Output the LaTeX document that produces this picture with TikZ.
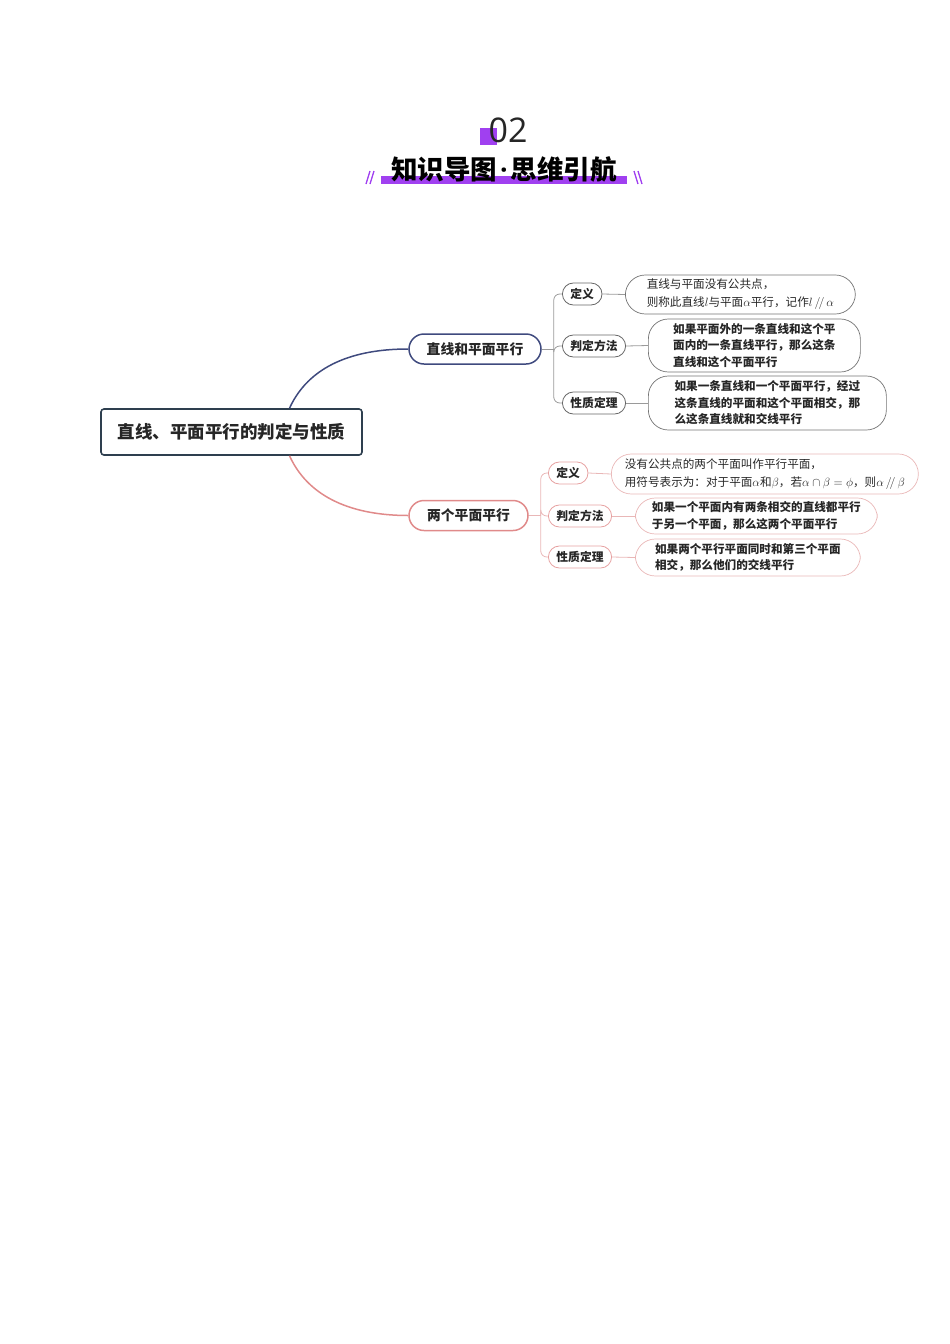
\documentclass[tikz,border=0pt]{standalone}
\usepackage{fontspec}
\usepackage{xcolor}
\usepackage{tikz}
\usetikzlibrary{positioning, calc}
\newfontfamily\cjk{Noto Sans CJK SC}
\newfontfamily\numfont{Open Sans}
\definecolor{navy}{HTML}{3F4A7E}
\definecolor{salmon}{HTML}{E08A8A}
\definecolor{pinkline}{HTML}{E9B7B7}
\definecolor{boxline}{HTML}{2E3F4F}
\definecolor{grayline}{HTML}{9A9A9A}
\definecolor{purple}{HTML}{A040F0}

\begin{document}
\begin{tikzpicture}
  [
    x=1pt, y=-1pt,
    Centre/.style={rectangle, draw=boxline, line width=1.6pt, rounded corners=3pt, minimum width=261pt, minimum height=46pt, font=\cjk\bfseries\fontsize{17.5}{20}\selectfont, text=black!85},
    BranchA/.style={rectangle, draw=navy, line width=1.5pt, rounded corners=15pt, minimum height=30pt, inner xsep=14pt, font=\cjk\bfseries\fontsize{13.8}{16}\selectfont, text=black!85},
    BranchB/.style={BranchA, draw=salmon},
    KidA/.style={rectangle, draw=black!60, line width=0.8pt, rounded corners=11pt, minimum height=22pt, inner xsep=8pt, anchor=west, font=\cjk\bfseries\fontsize{11.8}{14}\selectfont, text=black!85},
    KidB/.style={KidA, draw=salmon!80},
    LeafA/.style={rectangle, draw=black!55, line width=0.7pt, rounded corners=20pt, inner xsep=12pt, anchor=west, align=left, font=\cjk\bfseries\fontsize{11.6}{16.5}\selectfont, text=black!85},
    LeafB/.style={LeafA, draw=pinkline},
    Plain/.style={font=\cjk\fontsize{11.6}{18}\selectfont},
    KidLine/.style={draw=grayline, line width=0.8pt, rounded corners=6pt},
    KidLineB/.style={draw=pinkline, line width=0.8pt, rounded corners=6pt}
  ]
  \useasboundingbox (0,0) rectangle (950,1344);

  % Heading
  \fill[purple] (480,128) rectangle (497,145);
  \node[font=\numfont\fontsize{34}{36}\selectfont, text=black!85] (num) at (508,130) {02};
  \fill[purple] (381,176) rectangle (627,184);
  \node[font=\cjk\bfseries\fontsize{26.5}{28}\selectfont] (head) at (504,169) {知识导图\hspace{3pt}{\numfont\bfseries ·}\hspace{3pt}思维引航};
  \draw[purple, line width=1.3pt] (366,184) -- (370,171) (370,184) -- (374,171);
  \draw[purple, line width=1.3pt] (634,171) -- (638,184) (638,171) -- (642,184);

  % Nodes
  \node[Centre] (centre) at (231.5,432) {直线、平面平行的判定与性质};

  \node[BranchA, minimum width=132pt] (line) at (475,349) {直线和平面平行};
  \node[BranchB, minimum width=119pt] (plane) at (468.5,515.5) {两个平面平行};

  \node[KidA] (defA) at (562,294) {定义};
  \node[KidA] (testA) at (562,346) {判定方法};
  \node[KidA] (propA) at (562,403) {性质定理};

  \node[LeafA, Plain, minimum height=39pt, minimum width=230pt] (defAtext) at (625,294.5)
    {直线与平面没有公共点，\\则称此直线$l$与平面$\alpha$平行，记作$l\,/\!/\,\alpha$};
  \node[LeafA, minimum height=53pt, minimum width=212pt] (testAtext) at (648,345.5)
    {如果平面外的一条直线和这个平\\面内的一条直线平行，那么这条\\直线和这个平面平行};
  \node[LeafA, minimum height=54pt, minimum width=238pt] (propAtext) at (648,403)
    {如果一条直线和一个平面平行，经过\\这条直线的平面和这个平面相交，那\\么这条直线就和交线平行};

  \node[KidB] (defB) at (548,473) {定义};
  \node[KidB] (testB) at (548,516) {判定方法};
  \node[KidB] (propB) at (548,557) {性质定理};

  \node[LeafB, Plain, minimum height=40pt, minimum width=307pt, inner xsep=10pt] (defBtext) at (611,474)
    {没有公共点的两个平面叫作平行平面，\\用符号表示为：对于平面$\alpha$和$\beta$，若$\alpha\cap\beta=\phi$，则$\alpha\,/\!/\,\beta$};
  \node[LeafB, minimum height=36pt, minimum width=242pt] (testBtext) at (635,516)
    {如果一个平面内有两条相交的直线都平行\\于另一个平面，那么这两个平面平行};
  \node[LeafB, minimum height=37pt, minimum width=225pt] (propBtext) at (635,557.5)
    {如果两个平行平面同时和第三个平面\\相交，那么他们的交线平行};

  % Lines
  \draw[navy, line width=1.5pt] ([xshift=58pt]centre.north) .. controls +(22,-48) and +(-45,0) .. (line.west);
  \draw[salmon, line width=1.5pt] ([xshift=58pt]centre.south) .. controls +(22,48) and +(-45,0) .. (plane.west);

  \draw[KidLine] (line.east) -- ++(12,0) coordinate (jA);
  \foreach \k in {defA, testA, propA}
    \draw[KidLine] (jA) |- (\k.west);
  \foreach \k in {defA, testA, propA}
    \draw[KidLine] (\k.east) -- (\k text.west);

  \draw[KidLineB] (plane.east) -- ++(12,0) coordinate (jB);
  \foreach \k in {defB, testB, propB}
    \draw[KidLineB] (jB) |- (\k.west);
  \foreach \k in {defB, testB, propB}
    \draw[KidLineB] (\k.east) -- (\k text.west);

\end{tikzpicture}
\end{document}
